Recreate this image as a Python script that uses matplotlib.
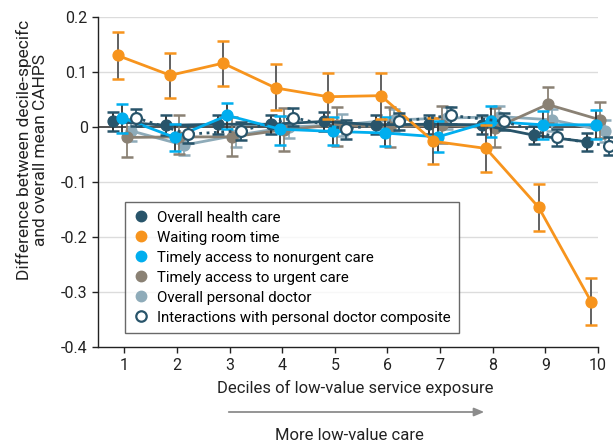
import numpy as np
import matplotlib
matplotlib.use('Agg')
import matplotlib.pyplot as plt
from matplotlib.lines import Line2D

plt.rcParams['font.family'] = ['Roboto', 'DejaVu Sans']

deciles = np.arange(1, 11)

# (values, lower CI, upper CI)
health_care = [0.010, 0.003, 0.005, 0.005, 0.010, 0.004, 0.005, 0.004, -0.015, -0.027]
health_care_lo = [-0.007, -0.015, -0.012, -0.012, -0.007, -0.013, -0.012, -0.013, -0.031, -0.043]
health_care_hi = [0.027, 0.021, 0.022, 0.022, 0.027, 0.021, 0.022, 0.021, 0.001, -0.011]

waiting_room = [0.130, 0.094, 0.116, 0.071, 0.055, 0.057, -0.026, -0.039, -0.146, -0.318]
waiting_room_lo = [0.088, 0.053, 0.074, 0.031, 0.015, 0.015, -0.067, -0.082, -0.190, -0.360]
waiting_room_hi = [0.172, 0.135, 0.157, 0.114, 0.098, 0.099, 0.017, 0.003, -0.103, -0.275]

nonurgent = [0.017, -0.019, 0.021, -0.004, -0.008, -0.011, -0.018, 0.010, 0.004, 0.004]
nonurgent_lo = [-0.011, -0.044, -0.003, -0.033, -0.033, -0.034, -0.045, -0.018, -0.021, -0.022]
nonurgent_hi = [0.042, 0.006, 0.043, 0.020, 0.019, 0.018, 0.010, 0.038, 0.029, 0.030]

urgent = [-0.019, -0.018, -0.018, -0.005, 0.004, 0.000, 0.004, -0.002, 0.041, 0.013]
urgent_lo = [-0.054, -0.050, -0.053, -0.044, -0.034, -0.036, -0.030, -0.036, 0.008, -0.020]
urgent_hi = [0.015, 0.021, 0.018, 0.034, 0.037, 0.037, 0.038, 0.034, 0.073, 0.046]

personal_doctor = [-0.007, -0.033, -0.015, 0.000, 0.004, 0.013, 0.016, 0.019, 0.013, -0.007]
personal_doctor_lo = [-0.025, -0.051, -0.036, -0.020, -0.016, -0.007, -0.004, 0.000, -0.007, -0.027]
personal_doctor_hi = [0.010, -0.015, 0.006, 0.020, 0.024, 0.033, 0.036, 0.038, 0.033, 0.013]

interactions = [0.017, -0.013, -0.007, 0.017, -0.004, 0.010, 0.021, 0.010, -0.019, -0.035]
interactions_lo = [0.001, -0.029, -0.023, 0.001, -0.021, -0.006, 0.005, -0.006, -0.035, -0.051]
interactions_hi = [0.033, 0.003, 0.009, 0.034, 0.012, 0.026, 0.037, 0.026, -0.003, -0.019]

labels = ['Overall health care', 'Waiting room time', 'Timely access to nonurgent care',
          'Timely access to urgent care', 'Overall personal doctor',
          'Interactions with personal doctor composite']

DARK = '#28546a'
ORANGE = '#f7941d'
BLUE = '#00aeef'
TAUPE = '#8a8174'
STEEL = '#8eabb9'

# name, vals, lo, hi, color, stem color, x offset, zorder
series = [
    (labels[4], personal_doctor, personal_doctor_lo, personal_doctor_hi, STEEL, STEEL, 0.1275, 3),
    (labels[3], urgent, urgent_lo, urgent_hi, TAUPE, TAUPE, 0.0425, 4),
    (labels[0], health_care, health_care_lo, health_care_hi, DARK, '#222222', -0.2125, 5),
    (labels[2], nonurgent, nonurgent_lo, nonurgent_hi, BLUE, '#333333', -0.0425, 6),
    (labels[1], waiting_room, waiting_room_lo, waiting_room_hi, ORANGE, '#555555', -0.1275, 7),
    (labels[5], interactions, interactions_lo, interactions_hi, DARK, DARK, 0.2125, 8),
]

fig = plt.figure(figsize=(6.13, 4.47), dpi=100)
ax = fig.add_axes([0.160, 0.2237, 0.8155, 0.7383])

for name, vals, lo, hi, color, stem, off, z in series:
    vals = np.array(vals)
    yerr = [vals - np.array(lo), np.array(hi) - vals]
    x = deciles + off
    eb = ax.errorbar(x, vals, yerr=yerr, fmt='none', ecolor=stem, elinewidth=1.3,
                     capsize=4.5, capthick=1.8, zorder=z)
    for cap in eb[1]:
        cap.set_markeredgecolor(color)
        cap.set_markerfacecolor(color)
        cap.set_clip_on(False)
    for col in eb[2]:
        col.set_clip_on(False)
    if name == labels[5]:
        ax.plot(x, vals, linestyle=':', color=color, linewidth=2, zorder=z, clip_on=False)
        ax.plot(x, vals, linestyle='none', marker='o', markersize=7.8, markerfacecolor='white',
                markeredgecolor=color, markeredgewidth=1.6, zorder=z + 0.5, clip_on=False)
    else:
        ax.plot(x, vals, linestyle='-', color=color, linewidth=2, zorder=z, clip_on=False)
        ax.plot(x, vals, linestyle='none', marker='o', markersize=7.8, color=color,
                zorder=z + 0.5, clip_on=False)

ax.axhline(0, color='#222222', linewidth=1.1, zorder=2)

ax.set_xlim(0.5, 10)
ax.set_ylim(-0.4, 0.2)
yt = [-0.4, -0.3, -0.2, -0.1, 0, 0.1, 0.2]
ax.set_yticks(yt)
ax.set_yticklabels(['-0.4', '-0.3', '-0.2', '-0.1', '0', '0.1', '0.2'])
ax.set_xticks(deciles)
ax.set_xticklabels([str(d) for d in deciles])
for y in [-0.3, -0.2, -0.1, 0.1, 0.2]:
    ax.axhline(y, color='#dcdcdc', linewidth=1, zorder=1)
for s in ['top', 'right']:
    ax.spines[s].set_visible(False)
for s in ['left', 'bottom']:
    ax.spines[s].set_color('#222222')
    ax.spines[s].set_linewidth(1)
ax.tick_params(axis='both', colors='#222222', labelsize=11.5, length=4, width=1)
ax.tick_params(axis='x', pad=4)

handles = []
colors = [DARK, ORANGE, BLUE, TAUPE, STEEL, DARK]
for i in range(6):
    if i == 5:
        h = Line2D([], [], linestyle='none', marker='o', markersize=7.5, markerfacecolor='white',
                   markeredgecolor=DARK, markeredgewidth=1.6)
    else:
        h = Line2D([], [], linestyle='none', marker='o', markersize=7.5, color=colors[i])
    handles.append(h)
leg = ax.legend(handles, labels, loc='lower left', bbox_to_anchor=(0.054, 0.043),
                borderaxespad=0, fontsize=10.8, frameon=True, fancybox=False,
                labelspacing=0.4, handletextpad=0.6, handlelength=1.0, borderpad=0.55)
leg.get_frame().set_edgecolor('#444444')
leg.get_frame().set_linewidth(1)
leg.set_zorder(10)

fig.text(32 / 613, 1 - 150 / 447, 'Difference between decile-specifc\nand overall mean CAHPS',
         rotation=90, ha='center', va='center', fontsize=12.5, color='#222222', linespacing=1.15)
fig.text(355 / 613, 1 - 388 / 447, 'Deciles of low-value service exposure',
         ha='center', va='center', fontsize=12, color='#222222')
fig.text(349 / 613, 1 - 436 / 447, 'More low-value care',
         ha='center', va='center', fontsize=12, color='#222222')
fig.add_artist(matplotlib.patches.FancyArrowPatch(
    (226 / 613, 1 - 412 / 447), (487 / 613, 1 - 412 / 447), transform=fig.transFigure,
    arrowstyle='-|>,head_length=6,head_width=2.5', color='#8c8c8c', linewidth=1.3))

fig.savefig('out.png', dpi=100)
